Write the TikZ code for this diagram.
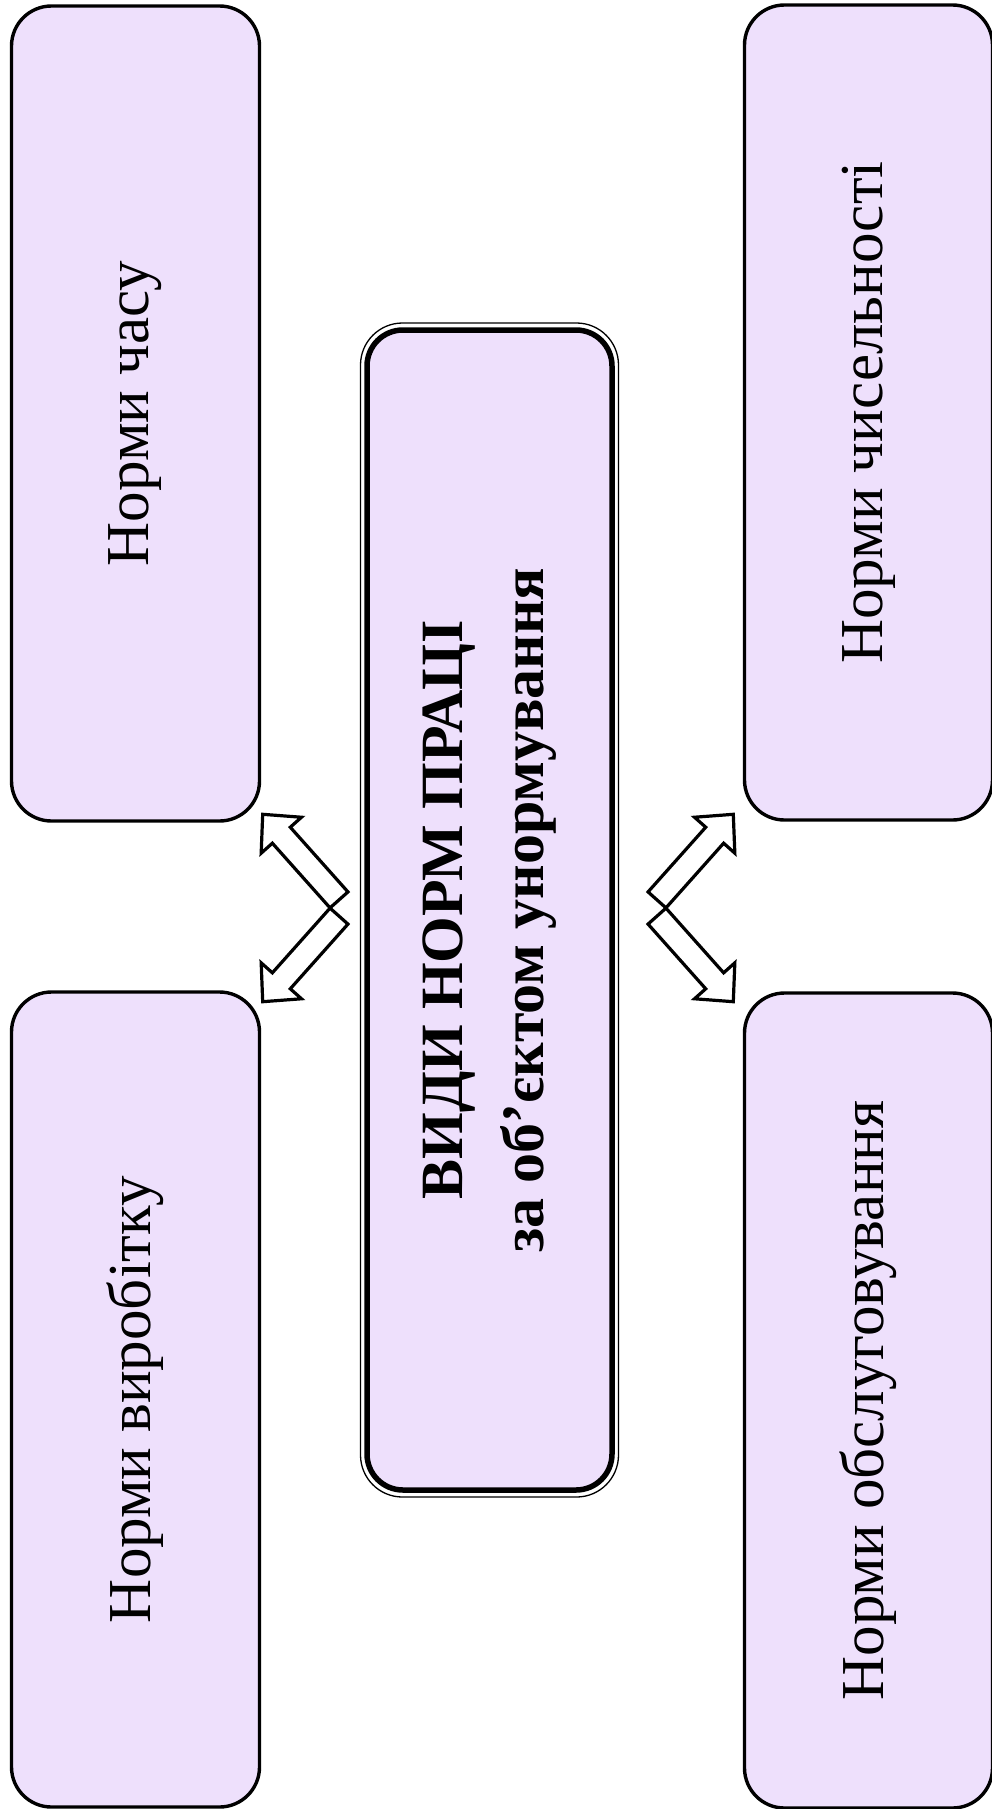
\documentclass[tikz,border=0pt]{standalone}
\usepackage{fontspec}
\setmainfont{Liberation Serif}
\usetikzlibrary{calc}
\definecolor{boxfill}{RGB}{238,224,252}
\tikzset{
  sidebox/.style={draw=black, line width=3.4pt, fill=boxfill, rounded corners=40pt,
    minimum width=815pt, minimum height=248pt, inner sep=0pt, rotate=90,
    font=\fontsize{61}{74}\selectfont},
  outerframe/.style={draw=black, line width=1.3pt, rounded corners=42pt,
    minimum width=1174pt, minimum height=258pt, inner sep=0pt, rotate=90},
  centerbox/.style={draw=black, line width=5.5pt, fill=boxfill, rounded corners=36pt,
    minimum width=1160pt, minimum height=245pt, inner sep=0pt, rotate=90,
    align=center, font=\fontsize{60}{81}\selectfont\bfseries},
  arrowline/.style={draw=black, line width=3.2pt, line join=miter}
}
\newcommand{\blockarr}[2]{%
  \path ($(#2)!28pt!(#1)$) coordinate (hb);
  \draw[arrowline] ($(#1)!12pt!90:(#2)$) -- ($(hb)!12pt!90:(#2)$)
    -- ($(hb)!27pt!90:(#2)$) -- (#2) -- ($(hb)!27pt!-90:(#2)$)
    -- ($(hb)!12pt!-90:(#2)$) -- ($(#1)!12pt!-90:(#2)$) -- cycle;
}
\begin{document}
\begin{tikzpicture}[x=1pt, y=-1pt]
\useasboundingbox (0,0) rectangle (992,1809);
% side boxes
\node[sidebox] (time) at (135.5,413.5) {Норми часу};
\node[sidebox] (output) at (135.5,1399.5) {Норми виробітку};
\node[sidebox] (staff) at (868.5,412.5) {Норми чисельності};
\node[sidebox] (service) at (868.5,1400.5) {Норми обслуговування};
% central box
\node[outerframe] (frame) at (489.5,910) {};
\node[centerbox] (main) at (489.5,910) {ВИДИ НОРМ ПРАЦІ\\за об’єктом унормування};
% arrow end points
\coordinate (luT) at (339,899.9);
\coordinate (luH) at (262.7,814.3);
\coordinate (llT) at (339,916.1);
\coordinate (llH) at (262.7,1001.7);
\coordinate (ruT) at (657,899.9);
\coordinate (ruH) at (733.3,814.3);
\coordinate (rlT) at (657,916.1);
\coordinate (rlH) at (733.3,1001.7);
\blockarr{luT}{luH}
\blockarr{llT}{llH}
\blockarr{ruT}{ruH}
\blockarr{rlT}{rlH}
\end{tikzpicture}
\end{document}
